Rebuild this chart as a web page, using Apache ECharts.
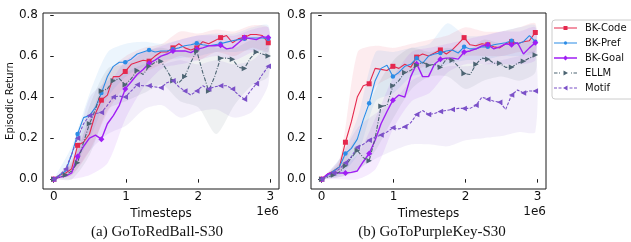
<!DOCTYPE html>
<html><head><meta charset="utf-8">
<script src="https://cdn.jsdelivr.net/npm/echarts@6/dist/echarts.min.js"></script>
<style>html,body{margin:0;padding:0;background:#fff}#c{width:631px;height:242px}</style>
</head><body><div id="c"></div>
<script>
// ---- data (timesteps in units of 1e6) ----
const timesteps = [0,0.083,0.165,0.248,0.33,0.413,0.495,0.578,0.66,0.743,0.825,0.908,0.99,1.073,1.155,1.238,1.32,1.403,1.485,1.568,1.65,1.733,1.815,1.898,1.98,2.063,2.145,2.228,2.31,2.393,2.475,2.558,2.64,2.723,2.805,2.888,2.97];
const bandSteps = [0,0.25,0.5,0.75,1,1.25,1.5,1.75,2,2.25,2.5,2.75,2.97];
const seriesNames = ['BK-Code','BK-Pref','BK-Goal','ELLM','Motif'];
const xTicks = [0,1,2,3];
const yTicks = [0,0.2,0.4,0.6,0.8];
const captions = ['(a) GoToRedBall-S30','(b) GoToPurpleKey-S30'];

// (a) GoToRedBall-S30
const leftCode  = [0,0.02,0.03,0.05,0.165,0.18,0.22,0.32,0.385,0.41,0.50,0.50,0.525,0.56,0.57,0.58,0.575,0.60,0.62,0.62,0.64,0.66,0.64,0.63,0.64,0.67,0.66,0.675,0.69,0.70,0.665,0.685,0.69,0.705,0.705,0.70,0.665];
const leftPref  = [0,0.02,0.04,0.12,0.22,0.30,0.31,0.35,0.42,0.50,0.55,0.57,0.57,0.585,0.61,0.62,0.63,0.62,0.625,0.625,0.633,0.64,0.65,0.655,0.662,0.655,0.65,0.655,0.66,0.668,0.675,0.68,0.685,0.688,0.688,0.688,0.685];
const leftGoal  = [0,0.01,0.015,0.03,0.11,0.16,0.20,0.215,0.195,0.27,0.31,0.36,0.44,0.475,0.51,0.535,0.565,0.58,0.60,0.61,0.625,0.625,0.625,0.617,0.633,0.64,0.65,0.65,0.653,0.635,0.64,0.665,0.69,0.685,0.68,0.695,0.69];
const leftEllm  = [0,0.01,0.02,0.04,0.08,0.18,0.27,0.34,0.43,0.44,0.48,0.49,0.46,0.49,0.53,0.51,0.55,0.57,0.575,0.53,0.48,0.47,0.50,0.57,0.625,0.52,0.43,0.50,0.59,0.59,0.585,0.545,0.54,0.59,0.62,0.61,0.60];
const leftMotif = [0,0.02,0.05,0.12,0.20,0.27,0.31,0.32,0.325,0.36,0.40,0.405,0.40,0.43,0.46,0.455,0.455,0.45,0.446,0.47,0.48,0.45,0.43,0.41,0.43,0.455,0.44,0.45,0.455,0.455,0.44,0.41,0.39,0.43,0.465,0.51,0.55];
const leftCodeLo  = [0,0.02,0.14,0.33,0.46,0.52,0.56,0.60,0.58,0.62,0.60,0.64,0.62];
const leftCodeHi  = [0,0.09,0.30,0.52,0.60,0.64,0.66,0.72,0.71,0.73,0.72,0.75,0.74];
const leftPrefLo  = [0,0.05,0.20,0.40,0.50,0.55,0.58,0.59,0.60,0.62,0.62,0.63,0.62];
const leftPrefHi  = [0,0.16,0.42,0.62,0.66,0.67,0.66,0.68,0.70,0.71,0.71,0.74,0.75];
const leftGoalLo  = [0,0,0.02,0.08,0.30,0.45,0.54,0.56,0.58,0.60,0.58,0.62,0.64];
const leftGoalHi  = [0,0.07,0.30,0.45,0.58,0.62,0.65,0.68,0.70,0.70,0.70,0.73,0.74];
const leftEllmLo  = [0,0,0.12,0.34,0.38,0.42,0.46,0.38,0.35,0.22,0.36,0.46,0.50];
const leftEllmHi  = [0,0.08,0.36,0.54,0.56,0.62,0.64,0.62,0.68,0.64,0.64,0.68,0.68];
const leftMotifLo = [0,0.02,0.14,0.22,0.26,0.34,0.36,0.30,0.33,0.34,0.30,0.33,0.46];
const leftMotifHi = [0,0.10,0.40,0.48,0.52,0.56,0.56,0.58,0.56,0.58,0.56,0.58,0.64];

// (b) GoToPurpleKey-S30
const rightCode  = [0,0.025,0.04,0.06,0.18,0.28,0.40,0.455,0.465,0.54,0.535,0.53,0.55,0.54,0.56,0.545,0.595,0.61,0.60,0.615,0.63,0.61,0.63,0.66,0.69,0.655,0.65,0.66,0.655,0.645,0.64,0.66,0.67,0.66,0.67,0.675,0.715];
const rightPref  = [0,0.02,0.04,0.06,0.125,0.15,0.195,0.29,0.37,0.48,0.54,0.555,0.50,0.52,0.55,0.56,0.59,0.565,0.60,0.61,0.615,0.625,0.63,0.615,0.645,0.635,0.635,0.645,0.645,0.655,0.66,0.665,0.675,0.66,0.67,0.70,0.67];
const rightGoal  = [0,0.025,0.033,0.03,0.03,0.033,0.04,0.085,0.125,0.19,0.27,0.33,0.385,0.41,0.40,0.50,0.563,0.50,0.50,0.56,0.585,0.59,0.59,0.585,0.62,0.625,0.635,0.65,0.655,0.635,0.645,0.66,0.655,0.665,0.61,0.64,0.665];
const rightEllm  = [0,0.01,0.02,0.035,0.065,0.105,0.14,0.105,0.09,0.20,0.355,0.36,0.455,0.48,0.52,0.53,0.555,0.57,0.555,0.56,0.545,0.585,0.58,0.55,0.515,0.51,0.56,0.59,0.585,0.565,0.565,0.545,0.545,0.565,0.575,0.59,0.605];
const rightMotif = [0,0.015,0.03,0.05,0.08,0.11,0.155,0.17,0.19,0.205,0.215,0.23,0.25,0.245,0.255,0.275,0.315,0.335,0.315,0.32,0.33,0.335,0.34,0.345,0.345,0.345,0.36,0.40,0.39,0.38,0.375,0.34,0.41,0.435,0.42,0.43,0.43];
const rightCodeLo  = [0,0.03,0.22,0.45,0.50,0.52,0.56,0.58,0.60,0.60,0.60,0.62,0.62];
const rightCodeHi  = [0,0.10,0.62,0.65,0.64,0.66,0.68,0.70,0.74,0.72,0.72,0.74,0.76];
const rightPrefLo  = [0,0.02,0.12,0.38,0.42,0.50,0.52,0.56,0.58,0.58,0.60,0.60,0.62];
const rightPrefHi  = [0,0.10,0.30,0.62,0.62,0.64,0.66,0.76,0.70,0.70,0.72,0.74,0.75];
const rightGoalLo  = [0,0,0,0.05,0.25,0.38,0.42,0.52,0.56,0.56,0.56,0.56,0.58];
const rightGoalHi  = [0,0.06,0.12,0.30,0.50,0.62,0.64,0.66,0.68,0.70,0.72,0.72,0.74];
const rightEllmLo  = [0,0.01,0.04,0.14,0.30,0.44,0.50,0.50,0.44,0.48,0.50,0.48,0.52];
const rightEllmHi  = [0,0.08,0.22,0.44,0.58,0.64,0.62,0.64,0.62,0.68,0.66,0.66,0.68];
const rightMotifLo = [0,0.01,0.05,0.10,0.14,0.17,0.17,0.16,0.19,0.20,0.21,0.23,0.23];
const rightMotifHi = [0,0.10,0.25,0.32,0.38,0.48,0.52,0.55,0.55,0.56,0.58,0.60,0.62];

// ---- styles ----
const colors = {'BK-Code':'#e5284d','BK-Pref':'#2b8ce6','BK-Goal':'#a01ff4','ELLM':'#4c6472','Motif':'#7b50c8'};
const styleOf = {
  'BK-Code':{symbol:'rect',size:5,every:4,width:1.1,type:'solid',rot:0},
  'BK-Pref':{symbol:'circle',size:4.5,every:4,width:1.1,type:'solid',rot:0},
  'BK-Goal':{symbol:'diamond',size:6,every:4,width:1.4,type:'solid',rot:0},
  'ELLM':{symbol:'triangle',size:5.5,every:2,width:1.1,type:[4,1.5,1,1.5],rot:-90},
  'Motif':{symbol:'triangle',size:5.5,every:2,width:1.1,type:[3,1.5],rot:90}
};
const anchor = 'M0,0 L0.01,0 L0,0.01 Z M23,8 L22.99,8 L23,7.99 Z ';
const icons = {
  'BK-Code':'path://'+anchor+'M0,3.5 H23 V4.5 H0 Z M9.5,2 H13.5 V6 H9.5 Z',
  'BK-Pref':'path://'+anchor+'M0,3.5 H23 V4.5 H0 Z M11.5,2.3 L12.7,2.8 L13.2,4 L12.7,5.2 L11.5,5.7 L10.3,5.2 L9.8,4 L10.3,2.8 Z',
  'BK-Goal':'path://'+anchor+'M0,3.2 H23 V4.8 H0 Z M11.5,1.5 L14,4 L11.5,6.5 L9,4 Z',
  'ELLM':'path://'+anchor+'M0,3.5 H3.5 V4.5 H0 Z M5,3.5 H6 V4.5 H5 Z M17,3.5 H18 V4.5 H17 Z M19.5,3.5 H23 V4.5 H19.5 Z M9.5,1.5 L14,4 L9.5,6.5 Z',
  'Motif':'path://'+anchor+'M0,3.5 H3 V4.5 H0 Z M4.5,3.5 H7.5 V4.5 H4.5 Z M15.5,3.5 H18.5 V4.5 H15.5 Z M20,3.5 H23 V4.5 H20 Z M13.5,1.5 L9,4 L13.5,6.5 Z'
};

const panels = [
  {lines:{'BK-Code':leftCode,'BK-Pref':leftPref,'BK-Goal':leftGoal,'ELLM':leftEllm,'Motif':leftMotif},
   lo:{'BK-Code':leftCodeLo,'BK-Pref':leftPrefLo,'BK-Goal':leftGoalLo,'ELLM':leftEllmLo,'Motif':leftMotifLo},
   hi:{'BK-Code':leftCodeHi,'BK-Pref':leftPrefHi,'BK-Goal':leftGoalHi,'ELLM':leftEllmHi,'Motif':leftMotifHi}},
  {lines:{'BK-Code':rightCode,'BK-Pref':rightPref,'BK-Goal':rightGoal,'ELLM':rightEllm,'Motif':rightMotif},
   lo:{'BK-Code':rightCodeLo,'BK-Pref':rightPrefLo,'BK-Goal':rightGoalLo,'ELLM':rightEllmLo,'Motif':rightMotifLo},
   hi:{'BK-Code':rightCodeHi,'BK-Pref':rightPrefHi,'BK-Goal':rightGoalHi,'ELLM':rightEllmHi,'Motif':rightMotifHi}}
];

const FONT = 'DejaVu Sans';
const grids = [
  {left:43, top:13, width:236, height:176},
  {left:311, top:13, width:235, height:176}
];
const series = [];
panels.forEach((p, gi) => {
  seriesNames.forEach(n => {
    const lo = p.lo[n], hi = p.hi[n];
    const color = colors[n];
    series.push({type:'custom', name:'band-'+gi+'-'+n, xAxisIndex:gi, yAxisIndex:gi, silent:true, clip:true, z:1,
      data: bandSteps.map((x,i)=>[x, lo[i], hi[i]]),
      encode:{x:0, y:[1,2]},
      renderItem: (params, api) => {
        if (params.dataIndex !== 0) return null;
        const top = bandSteps.map((x,i)=>api.coord([x, hi[i]]));
        const bot = bandSteps.map((x,i)=>api.coord([x, lo[i]])).reverse();
        return {type:'polygon', shape:{points: top.concat(bot), smooth:0.25},
          style:{fill:color, opacity:0.09}};
      }});
  });
  seriesNames.forEach(n => {
    const s = styleOf[n];
    series.push({type:'line', name:n, xAxisIndex:gi, yAxisIndex:gi,
      data: timesteps.map((x,i)=>[x, p.lines[n][i]]),
      showSymbol:true, showAllSymbol:true,
      symbol:(v, params) => (params.dataIndex % s.every === 0 ? s.symbol : 'none'),
      symbolSize:s.size, symbolRotate:s.rot,
      itemStyle:{color:colors[n]},
      lineStyle:{color:colors[n], width:s.width, type:s.type},
      z:3, animation:false});
  });
});

const chart = echarts.init(document.getElementById('c'), null, {renderer:'canvas'});
chart.setOption({
  animation:false,
  backgroundColor:'#fff',
  grid: grids.map(g => Object.assign({show:true, borderColor:'#1a1a1a', borderWidth:1, backgroundColor:'transparent'}, g)),
  xAxis: [0,1].map(i => ({type:'value', gridIndex:i, min:-0.1485, max:3.1185,
    axisLine:{show:false}, splitLine:{show:false},
    axisTick:{show:true, customValues:xTicks, length:3.5, lineStyle:{color:'#1a1a1a', width:1}},
    axisLabel:{customValues:xTicks, margin:2, fontSize:12, color:'#111', fontFamily:FONT},
    name:'Timesteps', nameLocation:'middle', nameGap:17,
    nameTextStyle:{fontSize:12, color:'#111', fontFamily:FONT}})),
  yAxis: [0,1].map(i => ({type:'value', gridIndex:i, min:-0.048, max:0.81,
    axisLine:{show:false}, splitLine:{show:false},
    axisTick:{show:true, customValues:yTicks, length:3.5, lineStyle:{color:'#1a1a1a', width:1}},
    axisLabel:{customValues:yTicks, margin:5, fontSize:12, color:'#111', fontFamily:FONT, formatter:v=>v.toFixed(1)},
    name: i===0 ? 'Episodic Return' : '', nameLocation:'middle', nameGap:26, nameRotate:90,
    nameTextStyle:{fontSize:10, color:'#111', fontFamily:FONT}})),
  legend:{orient:'vertical', left:552, top:20, padding:[3,40,6,2],
    borderColor:'#cccccc', borderWidth:1, borderRadius:3, backgroundColor:'#fff',
    itemWidth:23, itemHeight:8, itemGap:5, symbolKeepAspect:false,
    itemStyle:{borderWidth:0},
    textStyle:{fontSize:10, color:'#111', fontFamily:FONT, padding:[0,0,0,3], lineHeight:10},
    data: seriesNames.map(n => ({name:n, icon:icons[n]}))},
  graphic:[
    {type:'text', x:279, y:212, style:{text:'1e6', fill:'#111', font:'12px "DejaVu Sans"', textAlign:'right', textVerticalAlign:'middle'}},
    {type:'text', x:546, y:212, style:{text:'1e6', fill:'#111', font:'12px "DejaVu Sans"', textAlign:'right', textVerticalAlign:'middle'}},
    {type:'text', x:157, y:232, style:{text:captions[0], fill:'#111', font:'15px "Liberation Serif"', textAlign:'center', textVerticalAlign:'middle'}},
    {type:'text', x:432, y:232, style:{text:captions[1], fill:'#111', font:'15px "Liberation Serif"', textAlign:'center', textVerticalAlign:'middle'}}
  ],
  series: series
});
</script></body></html>
